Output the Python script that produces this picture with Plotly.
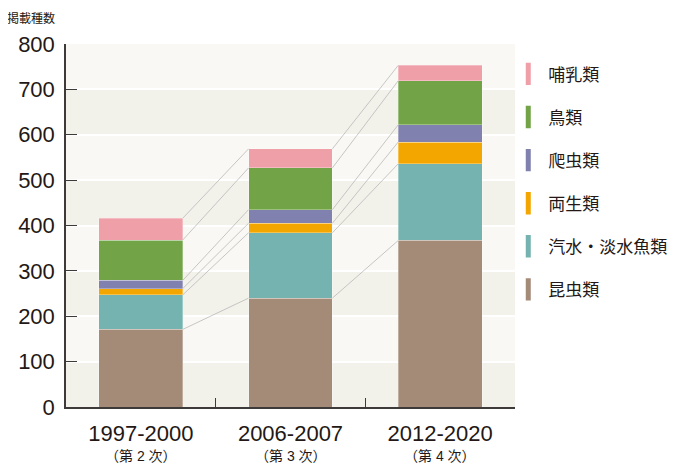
import plotly.graph_objects as go

# survey periods
periods = ["1997-2000", "2006-2007", "2012-2020"]
rounds = ["（第 2 次）", "（第 3 次）", "（第 4 次）"]

# species counts per group, bottom to top of the stack
groups = ["昆虫類", "汽水・淡水魚類", "両生類", "爬虫類", "鳥類", "哺乳類"]
insects = [171, 240, 367]
fish = [76, 144, 169]
amphibians = [14, 21, 48]
reptiles = [18, 30, 38]
birds = [89, 92, 97]
mammals = [48, 42, 34]
colors = ["#a48b78", "#74b3af", "#f4a600", "#8081ae", "#72a447", "#ef9fa8"]

series = [insects, fish, amphibians, reptiles, birds, mammals]
bar_w = 0.56
font_fam = "Liberation Sans, Noto Sans CJK JP, sans-serif"

fig = go.Figure()

for name, vals, col in zip(groups, series, colors):
    fig.add_trace(go.Bar(
        x=periods, y=vals, name=name, width=bar_w,
        marker=dict(color=col, line=dict(color="rgba(255,255,255,0.5)", width=0.6)),
        showlegend=False,
    ))

# legend entries drawn as thin vertical bars
for k, (name, col) in enumerate(zip(groups, colors)):
    fig.add_trace(go.Scatter(
        x=[None], y=[None], name=name, mode="markers",
        marker=dict(symbol="line-ns", size=16, line=dict(color=col, width=5)),
        legendgroup=name, legendrank=len(groups) - k,
    ))

# connector lines between the tops of each segment
cum = [0, 0, 0]
for vals in series:
    cum = [c + v for c, v in zip(cum, vals)]
    for i in range(len(periods) - 1):
        fig.add_trace(go.Scatter(
            x=[i + bar_w / 2, i + 1 - bar_w / 2], y=[cum[i], cum[i + 1]],
            mode="lines", line=dict(color="#b9b9b9", width=0.8),
            xaxis="x2", showlegend=False, hoverinfo="skip",
        ))

# alternating background bands
shapes = []
for k in range(0, 800, 200):
    shapes.append(dict(type="rect", xref="paper", yref="y", x0=0, x1=1,
                       y0=k, y1=k + 100, fillcolor="#f2f1ea", line_width=0,
                       layer="below"))

fig.update_layout(
    width=700, height=470,
    margin=dict(l=58, r=193, t=36, b=71),
    paper_bgcolor="white", plot_bgcolor="#f9f8f4",
    barmode="stack",
    font=dict(family=font_fam, color="#231815"),
    shapes=shapes,
    showlegend=True,
    legend=dict(x=0.985, y=0.966, xanchor="left", yanchor="top",
                traceorder="grouped", tracegroupgap=18,
                itemwidth=30,
                font=dict(size=17), bgcolor="rgba(0,0,0,0)"),
    xaxis=dict(type="category", tickson="boundaries", ticks="inside",
               ticklen=9, tickcolor="#3e3a39", tickwidth=1.2,
               showline=True, linecolor="#3e3a39", linewidth=1.5,
               automargin=False, ticklabelstandoff=6,
               tickfont=dict(size=22), range=[-0.5, 2.5]),
    xaxis2=dict(overlaying="x", range=[-0.5, 2.5], visible=False),
    yaxis=dict(range=[0, 800], dtick=100, ticks="inside", ticklen=11,
               tickcolor="#3e3a39", tickwidth=1.2, automargin=False,
               ticklabelstandoff=5,
               showline=True, linecolor="#3e3a39", linewidth=1.5,
               showgrid=True, gridcolor="white", gridwidth=2,
               zeroline=False, tickfont=dict(size=22)),
)

# second line of the category labels
for p, r in zip(periods, rounds):
    fig.add_annotation(text=r, x=p, xref="x", y=0, yref="y", yshift=-49,
                       yanchor="middle", showarrow=False, font=dict(size=14))

fig.add_annotation(text="掲載種数", xref="paper", yref="paper",
                   x=-0.135, y=1.045, xanchor="left", yanchor="bottom",
                   showarrow=False, font=dict(size=12))

fig.write_html("out.html")
